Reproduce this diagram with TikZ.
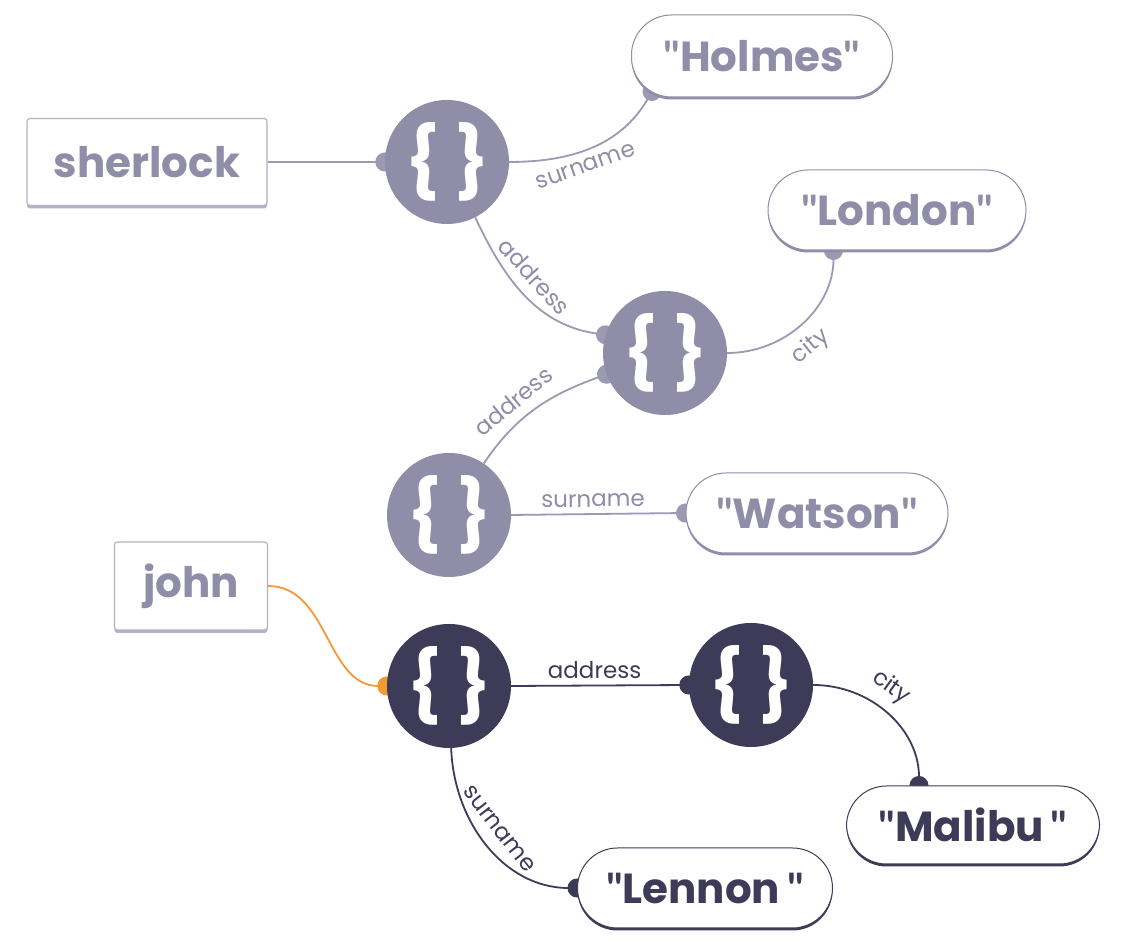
\documentclass[tikz,border=0pt]{standalone}
\usepackage{fontspec}
\setmainfont{Poppins}
\newfontfamily\qfont{Lato}
\newcommand{\qt}{{\qfont\bfseries"}}
\usetikzlibrary{backgrounds,calc,arrows.meta}
\definecolor{lt}{HTML}{8F8DA8}
\definecolor{ltline}{HTML}{9C9AB2}
\definecolor{ltborder}{HTML}{B4B2C6}
\definecolor{dk}{HTML}{3E3B58}
\definecolor{org}{HTML}{F39A33}
\begin{document}
\begin{tikzpicture}[x=1pt,y=1pt,
  obj/.style={circle, minimum size=124pt, inner sep=0pt, fill=#1, text=white,
    font=\fontsize{70}{70}\selectfont\bfseries},
  keybox/.style={rectangle, rounded corners=3pt, draw=ltborder, fill=white, line width=1.2pt,
    text=#1, font=\fontsize{42}{42}\selectfont\bfseries,
    preaction={fill=ltborder, transform canvas={yshift=-3pt}}},
  pill/.style={rectangle, rounded corners=40pt, draw=#1, fill=white, line width=1pt,
    minimum width=258pt, minimum height=80pt, inner sep=0pt, text=#1,
    font=\fontsize{42}{42}\selectfont\bfseries,
    preaction={fill=#1, transform canvas={yshift=-2.5pt}}},
  conn/.style={draw=#1, line width=1.8pt, -{Circle[length=19pt,width=19pt]}, shorten >=-9.5pt},
  elabel/.style={font=\fontsize{23}{23}\selectfont, text=#1, sloped, inner sep=8pt}
]
\useasboundingbox (0,0) rectangle (1136,952);

% nodes
\node[keybox=lt, minimum width=240pt, minimum height=87pt] (sherlock) at (147,790) {sherlock};
\node[keybox=lt, minimum width=153pt, minimum height=88pt] (john) at (191,366) {john};

\node[obj=lt] (c1) at (447,790) {\{\hspace{14pt}\}};
\node[obj=lt] (c2) at (665,599) {\{\hspace{14pt}\}};
\node[obj=lt] (c3) at (449,437) {\{\hspace{14pt}\}};
\node[obj=dk] (c4) at (449,266) {\{\hspace{14pt}\}};
\node[obj=dk] (c5) at (751,267) {\{\hspace{14pt}\}};

\node[pill=lt, minimum width=261pt, minimum height=82pt] (holmes) at (762,896) {\qt Holmes\qt};
\node[pill=lt] (london) at (897,742) {\qt London\qt};
\node[pill=lt, minimum width=262pt] (watson) at (817,439) {\qt Watson\qt};
\node[pill=dk, minimum width=253pt, minimum height=78pt] (malibu) at (973,127) {\qt Malibu\,\qt};
\node[pill=dk, minimum width=255pt] (lennon) at (705,64) {\qt Lennon\,\qt};

% connectors
\begin{scope}[on background layer]
\fill[white] (0,0) rectangle (1136,952);
\draw[conn=ltline] (sherlock.east) -- (c1.west);
\draw[conn=ltline] (c1.east) to[out=0,in=-120]
  node[elabel=lt, below, pos=0.42] (l1) {surname} ($(holmes.south west)+(21,6)$);
\draw[conn=ltline] (c1.-63) to[out=-65,in=172]
  node[elabel=lt, above, pos=0.45, inner sep=10pt] (l2) {address} (c2.163);
\draw[conn=ltline] (c2.east) to[out=0,in=-90]
  node[elabel=lt, below, pos=0.45, inner sep=11pt] (l3) {city} ($(london.south west)+(66,0)$);
\draw[conn=ltline] (c3.56) to[out=56,in=-160]
  node[elabel=lt, above, pos=0.4, inner sep=10pt] (l4) {address} (c2.200);
\draw[conn=ltline] (c3.east) --
  node[elabel=lt, above, pos=0.47, inner sep=6pt] (l5) {surname} (watson.west);
\draw[conn=org] (john.east) to[out=0,in=180] (c4.west);
\draw[conn=dk] (c4.east) --
  node[elabel=dk, above, pos=0.47, inner sep=6pt] (l6) {address} (c5.west);
\draw[conn=dk] (c5.east) to[out=0,in=90]
  node[elabel=dk, above, pos=0.42, inner sep=10pt] (l7) {city} ($(malibu.north west)+(73,0)$);
\draw[conn=dk] (c4.-88) to[out=-88,in=180]
  node[elabel=dk, above, pos=0.47, inner sep=12pt] (l8) {surname} (lennon.west);
\end{scope}
\end{tikzpicture}
\end{document}
